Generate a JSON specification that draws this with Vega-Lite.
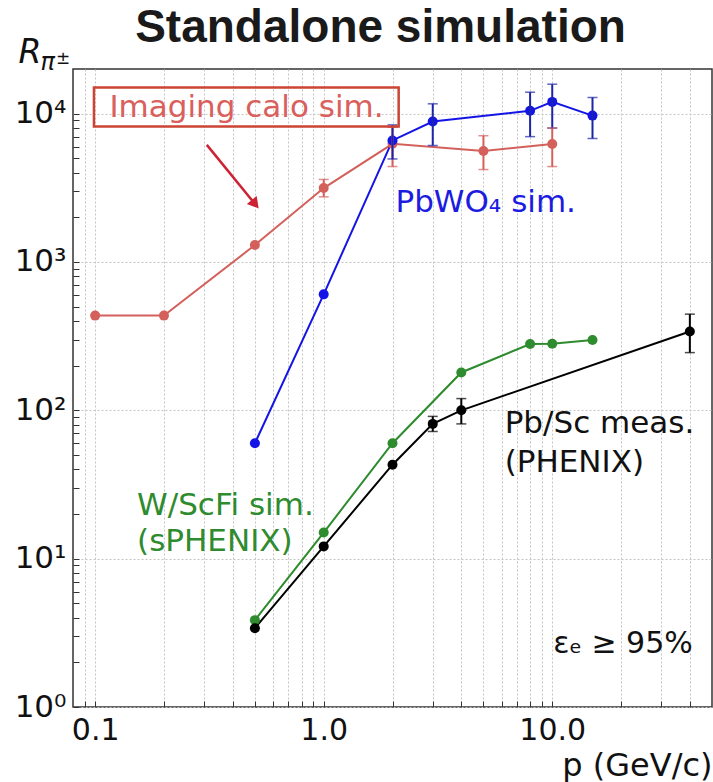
{
  "$schema": "https://vega.github.io/schema/vega-lite/v6.json",
  "width": 639,
  "height": 638,
  "autosize": "none",
  "padding": {"left": 73, "top": 69, "right": 1, "bottom": 75},
  "background": "white",
  "title": {
    "text": "Standalone simulation",
    "font": "Liberation Sans",
    "fontSize": 46,
    "fontWeight": "bold",
    "color": "#1a1a1a",
    "anchor": "middle",
    "frame": "group",
    "baseline": "alphabetic",
    "dx": -12,
    "offset": 0,
    "dy": 52
  },
  "config": {
    "view": {"stroke": "#333333", "strokeWidth": 1.5},
    "font": "DejaVu Sans"
  },
  "datasets": {
    "pts": [
      {"series": "calo", "p": 0.1, "r": 435},
      {"series": "calo", "p": 0.2, "r": 435},
      {"series": "calo", "p": 0.5, "r": 1300},
      {"series": "calo", "p": 1.0, "r": 3150, "lo": 2750, "hi": 3600},
      {"series": "calo", "p": 2.0, "r": 6260, "lo": 4400, "hi": 8100},
      {"series": "calo", "p": 5.0, "r": 5600, "lo": 4200, "hi": 7100},
      {"series": "calo", "p": 10.0, "r": 6250, "lo": 4400, "hi": 8000},
      {"series": "pbwo4", "p": 0.5, "r": 60},
      {"series": "pbwo4", "p": 1.0, "r": 605},
      {"series": "pbwo4", "p": 2.0, "r": 6600, "lo": 4950, "hi": 8400},
      {"series": "pbwo4", "p": 3.0, "r": 8850, "lo": 6100, "hi": 11650},
      {"series": "pbwo4", "p": 8.0, "r": 10450, "lo": 7000, "hi": 13950},
      {"series": "pbwo4", "p": 10.0, "r": 12000, "lo": 8000, "hi": 15800},
      {"series": "pbwo4", "p": 15.0, "r": 9700, "lo": 6800, "hi": 12850},
      {"series": "wscfi", "p": 0.5, "r": 3.85},
      {"series": "wscfi", "p": 1.0, "r": 15},
      {"series": "wscfi", "p": 2.0, "r": 60},
      {"series": "wscfi", "p": 4.0, "r": 180},
      {"series": "wscfi", "p": 8.0, "r": 280},
      {"series": "wscfi", "p": 10.0, "r": 281},
      {"series": "wscfi", "p": 15.0, "r": 298},
      {"series": "pbsc", "p": 0.5, "r": 3.4},
      {"series": "pbsc", "p": 1.0, "r": 12.1},
      {"series": "pbsc", "p": 2.0, "r": 43},
      {"series": "pbsc", "p": 3.0, "r": 81, "lo": 72, "hi": 91},
      {"series": "pbsc", "p": 4.0, "r": 100, "lo": 81, "hi": 120},
      {"series": "pbsc", "p": 40.0, "r": 340, "lo": 245, "hi": 445}
    ]
  },
  "layer": [
    {
      "data": {"name": "pts"},
      "mark": {"type": "line", "strokeWidth": 2, "point": {"filled": true, "size": 100, "opacity": 1}},
      "encoding": {
        "x": {
          "field": "p", "type": "quantitative",
          "scale": {"type": "log", "domain": [0.08, 50], "nice": false},
          "axis": {
            "values": [0.09, 0.1, 0.2, 0.3, 0.4, 0.5, 0.6, 0.7, 0.8, 0.9, 1, 2, 3, 4, 5, 6, 7, 8, 9, 10, 20, 30, 40],
            "labelExpr": "datum.value == 0.1 ? '0.1' : datum.value == 1 ? '1.0' : datum.value == 10 ? '10.0' : ''",
            "labelFont": "DejaVu Sans", "labelFontSize": 30, "labelColor": "#111111",
            "labelPadding": 14, "labelFlush": false, "labelOverlap": false,
            "domain": false,
            "tickColor": "#333333", "tickSize": -6,
            "grid": true, "gridColor": "#c4c4c4", "gridDash": [2, 2], "gridWidth": 1,
            "title": "p (GeV/c)", "titleFont": "DejaVu Sans", "titleFontSize": 32, "titleFontWeight": "normal", "titleColor": "#111111",
            "titleAnchor": "end", "titleAlign": "right", "titlePadding": 5
          }
        },
        "y": {
          "field": "r", "type": "quantitative",
          "scale": {"type": "log", "domain": [1, 20000], "nice": false},
          "axis": {
            "values": [1, 2, 3, 4, 5, 6, 7, 8, 9, 10, 20, 30, 40, 50, 60, 70, 80, 90, 100, 200, 300, 400, 500, 600, 700, 800, 900, 1000, 2000, 3000, 4000, 5000, 6000, 7000, 8000, 9000, 10000],
            "labelExpr": "datum.value == 1 ? '10⁰' : datum.value == 10 ? '10¹' : datum.value == 100 ? '10²' : datum.value == 1000 ? '10³' : datum.value == 10000 ? '10⁴' : ''",
            "labelFont": "DejaVu Sans", "labelFontSize": 31, "labelColor": "#111111",
            "labelPadding": 13, "labelFlush": false, "labelOverlap": false,
            "domain": false,
            "tickColor": "#333333", "tickSize": -6,
            "grid": true, "gridColor": "#c4c4c4", "gridDash": [2, 2], "gridWidth": 1,
            "gridOpacity": {"condition": {"test": "abs(log(datum.value)/LN10 - round(log(datum.value)/LN10)) < 0.001", "value": 1}, "value": 0},
            "title": "R", "titleFont": "DejaVu Sans", "titleFontSize": 33, "titleFontStyle": "italic", "titleFontWeight": "normal", "titleColor": "#111111",
            "titleAngle": 0, "titleAlign": "left", "titleBaseline": "alphabetic", "titleX": -55, "titleY": -7
          }
        },
        "color": {"field": "series", "type": "nominal", "scale": {"domain": ["calo", "pbwo4", "wscfi", "pbsc"], "range": ["#d4605c", "#1414e6", "#2e8b2e", "#000000"]}, "legend": null}
      }
    },
    {
      "data": {"name": "pts"},
      "transform": [{"filter": "isValid(datum.lo)"}],
      "mark": {"type": "rule", "strokeWidth": 2},
      "encoding": {
        "x": {"field": "p", "type": "quantitative"},
        "y": {"field": "lo", "type": "quantitative"},
        "y2": {"field": "hi"},
        "color": {"condition": {"test": "datum.series == 'pbwo4'", "value": "#1c24a8"}, "field": "series", "type": "nominal", "legend": null}
      }
    },
    {
      "data": {"name": "pts"},
      "transform": [{"filter": "isValid(datum.lo)"}],
      "mark": {"type": "tick", "orient": "horizontal", "size": 10, "thickness": 1.5},
      "encoding": {
        "x": {"field": "p", "type": "quantitative"},
        "y": {"field": "lo", "type": "quantitative"},
        "color": {"condition": {"test": "datum.series == 'pbwo4'", "value": "#1c24a8"}, "field": "series", "type": "nominal", "legend": null}
      }
    },
    {
      "data": {"name": "pts"},
      "transform": [{"filter": "isValid(datum.hi)"}],
      "mark": {"type": "tick", "orient": "horizontal", "size": 10, "thickness": 1.5},
      "encoding": {
        "x": {"field": "p", "type": "quantitative"},
        "y": {"field": "hi", "type": "quantitative"},
        "color": {"condition": {"test": "datum.series == 'pbwo4'", "value": "#1c24a8"}, "field": "series", "type": "nominal", "legend": null}
      }
    },
    {
      "data": {"values": [{"x1": 0.0988, "x2": 2.128, "y1": 8185, "y2": 15000}]},
      "mark": {"type": "rect", "fill": "white", "fillOpacity": 0, "stroke": "#cc4433", "strokeWidth": 2.5},
      "encoding": {
        "x": {"field": "x1", "type": "quantitative"},
        "x2": {"field": "x2"},
        "y": {"field": "y1", "type": "quantitative"},
        "y2": {"field": "y2"}
      }
    },
    {
      "data": {"values": [{"x1": 0.308, "y1": 6160, "x2": 0.5016, "y2": 2454}]},
      "mark": {"type": "rule", "stroke": "#cc2233", "strokeWidth": 2.5},
      "encoding": {
        "x": {"field": "x1", "type": "quantitative"},
        "y": {"field": "y1", "type": "quantitative"},
        "x2": {"field": "x2"},
        "y2": {"field": "y2"}
      }
    },
    {
      "data": {"values": [{"x": 0.5016, "y": 2454}]},
      "mark": {"type": "point", "shape": "triangle-down", "filled": true, "fill": "#cc2233", "color": "#cc2233", "size": 160, "angle": 321, "opacity": 1},
      "encoding": {
        "x": {"field": "x", "type": "quantitative"},
        "y": {"field": "y", "type": "quantitative"}
      }
    },
    {
      "data": {"values": [{"t": "Imaging calo sim.", "x": 0.4595, "y": 9557}]},
      "mark": {"type": "text", "font": "DejaVu Sans", "fontSize": 31, "color": "#d9605c", "align": "center", "baseline": "alphabetic"},
      "encoding": {
        "x": {"field": "x", "type": "quantitative"},
        "y": {"field": "y", "type": "quantitative"},
        "text": {"field": "t"}
      }
    },
    {
      "data": {"values": [{"t": "PbWO₄ sim.", "x": 2.06, "y": 2188}]},
      "mark": {"type": "text", "font": "DejaVu Sans", "fontSize": 31, "color": "#1c1ce0", "align": "left", "baseline": "alphabetic"},
      "encoding": {
        "x": {"field": "x", "type": "quantitative"},
        "y": {"field": "y", "type": "quantitative"},
        "text": {"field": "t"}
      }
    },
    {
      "data": {"values": [{"t": "Pb/Sc meas.", "x": 6.19, "y": 70.1}, {"t": "(PHENIX)", "x": 6.19, "y": 38.6}]},
      "mark": {"type": "text", "font": "DejaVu Sans", "fontSize": 31, "color": "#111111", "align": "left", "baseline": "alphabetic"},
      "encoding": {
        "x": {"field": "x", "type": "quantitative"},
        "y": {"field": "y", "type": "quantitative"},
        "text": {"field": "t"}
      }
    },
    {
      "data": {"values": [{"t": "W/ScFi sim.", "x": 0.1526, "y": 19.7}, {"t": "(sPHENIX)", "x": 0.1526, "y": 11.32}]},
      "mark": {"type": "text", "font": "DejaVu Sans", "fontSize": 31, "color": "#2e8b2e", "align": "left", "baseline": "alphabetic"},
      "encoding": {
        "x": {"field": "x", "type": "quantitative"},
        "y": {"field": "y", "type": "quantitative"},
        "text": {"field": "t"}
      }
    },
    {
      "data": {"values": [{"t": "εₑ ≥ 95%", "x": 41.2, "y": 2.31}]},
      "mark": {"type": "text", "font": "DejaVu Sans", "fontSize": 30, "color": "#111111", "align": "right", "baseline": "alphabetic"},
      "encoding": {
        "x": {"field": "x", "type": "quantitative"},
        "y": {"field": "y", "type": "quantitative"},
        "text": {"field": "t"}
      }
    },
    {
      "data": {"values": [{"t": "π", "x": 0.0577, "y": 19740}]},
      "mark": {"type": "text", "font": "DejaVu Sans", "fontSize": 24, "fontStyle": "italic", "color": "#111111", "align": "left", "baseline": "alphabetic"},
      "encoding": {
        "x": {"field": "x", "type": "quantitative"},
        "y": {"field": "y", "type": "quantitative"},
        "text": {"field": "t"}
      }
    },
    {
      "data": {"values": [{"t": "±", "x": 0.0674, "y": 21680}]},
      "mark": {"type": "text", "font": "DejaVu Sans", "fontSize": 17, "color": "#111111", "align": "left", "baseline": "alphabetic"},
      "encoding": {
        "x": {"field": "x", "type": "quantitative"},
        "y": {"field": "y", "type": "quantitative"},
        "text": {"field": "t"}
      }
    }
  ]
}
